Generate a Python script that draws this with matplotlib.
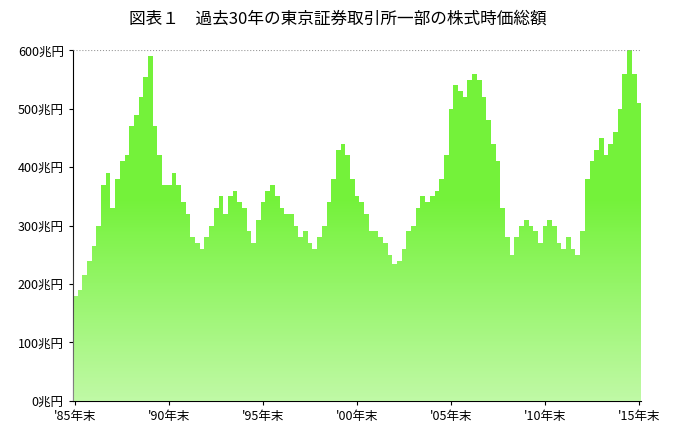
import matplotlib
matplotlib.use("Agg")
import matplotlib.pyplot as plt
import numpy as np

plt.rcParams['font.family'] = ['Noto Sans CJK JP', 'DejaVu Sans']

title = "図表１　過去30年の東京証券取引所一部の株式時価総額"
# quarterly market cap (兆円), from end-1985
values = [180,
    190,215,240,265, 300,370,390,330, 380,410,420,470, 490,520,555,590,
    470,420,370,370, 390,370,340,320, 280,270,260,280, 300,330,350,320,
    350,360,340,330, 290,270,310,340, 360,370,350,330, 320,320,300,280,
    290,270,260,280, 300,340,380,430, 440,420,380,350, 340,320,290,290,
    280,270,250,235, 240,260,290,300, 330,350,340,350, 360,380,420,500,
    540,530,520,550, 560,550,520,480, 440,410,330,280, 250,280,300,310,
    300,290,270,300, 310,300,270,260, 280,260,250,290, 380,410,430,450,
    420,440,460,500, 560,600,560,510]
tick_labels = ["'85年末", "'90年末", "'95年末", "'00年末", "'05年末", "'10年末", "'15年末"]
y_ticks = [0, 100, 200, 300, 400, 500, 600]

fig = plt.figure(figsize=(6.75, 4.38), dpi=100)
ax = fig.add_axes([0.108, 0.085, 0.842, 0.80])
x = np.arange(len(values))
ax.bar(x, values, width=1.0, color='#74f23a', linewidth=0, align='edge')
img = np.ones((256, 1, 4))
img[:, :, 3] = np.clip(np.linspace(0.55, -0.4, 256), 0, 1).reshape(-1, 1)
ax.imshow(img, extent=[0, len(values), 0, 600], aspect='auto', origin='lower', zorder=3)
ax.set_xlim(0, len(values))
ax.set_ylim(0, 600)
ax.axhline(600, color='#999999', linestyle=':', linewidth=0.8, zorder=4)
ax.set_yticks(y_ticks)
ax.set_yticklabels([f"{v}兆円" for v in y_ticks], fontsize=9)
ax.set_xticks(np.arange(0, 121, 20) + 0.5)
ax.set_xticklabels(tick_labels, fontsize=9)
for s in ['top', 'right']:
    ax.spines[s].set_visible(False)
ax.tick_params(length=3)
fig.suptitle(title, fontsize=12, y=0.975)
fig.savefig("out.png", dpi=100)
